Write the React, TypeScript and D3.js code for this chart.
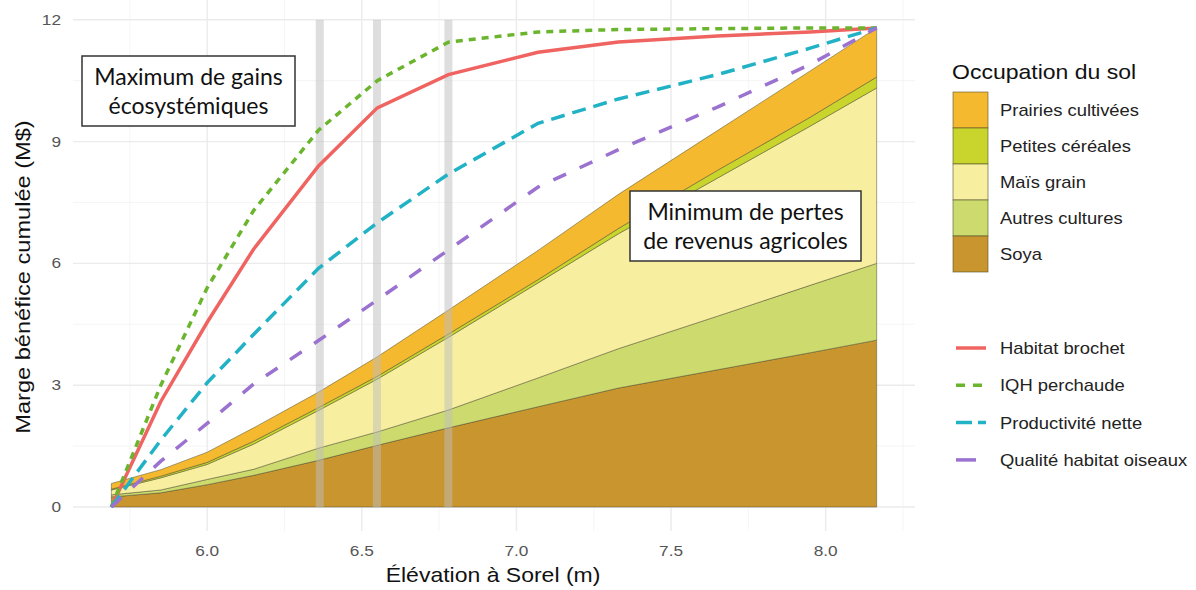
import React from "react";
import * as d3 from "d3";

const elevations = [5.69, 5.85, 6.0, 6.15, 6.36, 6.55, 6.78, 7.07, 7.33, 7.65, 7.95, 8.165];

const landCategories = ["Soya", "Autres cultures", "Maïs grain", "Petites céréales", "Prairies cultivées"];
const soya = [0.25, 0.35, 0.55, 0.78, 1.15, 1.52, 1.95, 2.47, 2.93, 3.38, 3.8, 4.11];
const autresCultures = [0.05, 0.07, 0.13, 0.15, 0.3, 0.33, 0.44, 0.71, 0.97, 1.32, 1.66, 1.89];
const maisGrain = [0.12, 0.3, 0.37, 0.62, 0.93, 1.3, 1.79, 2.34, 2.83, 3.4, 3.92, 4.32];
const petitesCereales = [0.02, 0.04, 0.05, 0.07, 0.07, 0.07, 0.08, 0.08, 0.13, 0.19, 0.22, 0.27];
const prairiesCultivees = [0.14, 0.16, 0.25, 0.33, 0.38, 0.48, 0.59, 0.72, 0.84, 0.98, 1.14, 1.21];

const lineNames = ["Habitat brochet", "IQH perchaude", "Productivité nette", "Qualité habitat oiseaux"];
const habitatBrochet = [0, 2.6, 4.55, 6.35, 8.4, 9.83, 10.65, 11.2, 11.45, 11.6, 11.7, 11.8];
const iqhPerchaude = [0, 3.0, 5.4, 7.3, 9.28, 10.5, 11.45, 11.7, 11.76, 11.78, 11.8, 11.8];
const productiviteNette = [0, 1.65, 3.06, 4.25, 5.88, 7.0, 8.2, 9.45, 10.05, 10.65, 11.3, 11.8];
const qualiteOiseaux = [0, 1.13, 2.06, 3.03, 4.1, 5.1, 6.33, 7.88, 8.8, 9.85, 10.9, 11.8];

const scenarioElevations = [6.364, 6.549, 6.78];
const xTicks = [6.0, 6.5, 7.0, 7.5, 8.0];
const xMinor = [5.75, 6.25, 6.75, 7.25, 7.75, 8.25];
const yTicks = [0, 3, 6, 9, 12];
const yMinor = [1.5, 4.5, 7.5, 10.5];

const areaColors: Record<string, string> = {
  "Prairies cultivées": "#F5B930",
  "Petites céréales": "#C9D52C",
  "Maïs grain": "#F7EE9F",
  "Autres cultures": "#CDDB6E",
  Soya: "#C9952F",
};
const lineStyles = [
  { color: "#EF6461", dash: "none" },
  { color: "#6BB52E", dash: "7,6" },
  { color: "#22B2C6", dash: "14,8" },
  { color: "#9B72CF", dash: "14,15" },
];
const legendKeyDash = ["none", "9,8", "16,6", "none"];
const legendKeyLen = [30, 30, 30, 20];

const FONT = "'Liberation Sans', Arial, sans-serif";
const SX = 1.15;

function T(props: {
  x: number;
  y: number;
  size: number;
  anchor?: string;
  fill?: string;
  rotate?: number;
  sx?: number;
  children: React.ReactNode;
}) {
  const { x, y, size, anchor = "start", fill = "#222", rotate = 0, sx = SX } = props;
  return (
    <text
      transform={`translate(${x},${y}) rotate(${rotate}) scale(${sx},1)`}
      fontFamily={FONT}
      fontSize={size}
      textAnchor={anchor}
      fill={fill}
    >
      {props.children}
    </text>
  );
}

export default function App() {
  const W = 1196, H = 590;
  const x = d3.scaleLinear().domain([5.566, 8.289]).range([73, 915]);
  const y = d3.scaleLinear().domain([-0.6, 12.6]).range([531.4, -4.6]);

  const areaSeries = [soya, autresCultures, maisGrain, petitesCereales, prairiesCultivees];
  const rows = elevations.map((e, i) => {
    const r: any = { e };
    landCategories.forEach((c, k) => (r[c] = areaSeries[k][i]));
    return r;
  });
  const stacked = d3.stack<any>().keys(landCategories)(rows);
  const area = d3
    .area<any>()
    .x((d) => x(d.data.e))
    .y0((d) => y(d[0]))
    .y1((d) => y(d[1]));

  const lineSeries = [habitatBrochet, iqhPerchaude, productiviteNette, qualiteOiseaux];
  const line = d3
    .line<number>()
    .x((_, i) => x(elevations[i]))
    .y((d) => y(d));

  const legendOrder = [...landCategories].reverse();

  return (
    <svg width={W} height={H} style={{ position: "absolute", left: 0, top: 0, background: "#fff" }}>
      <g>
        {yMinor.map((v) => (
          <line key={"ym" + v} x1={73} x2={915} y1={y(v)} y2={y(v)} stroke="#f3f3f3" strokeWidth={0.8} />
        ))}
        {xMinor.map((v) => (
          <line key={"xm" + v} x1={x(v)} x2={x(v)} y1={-5} y2={531} stroke="#f3f3f3" strokeWidth={0.8} />
        ))}
        {yTicks.map((v) => (
          <line key={"y" + v} x1={73} x2={915} y1={y(v)} y2={y(v)} stroke="#ebebeb" strokeWidth={1.4} />
        ))}
        {xTicks.map((v) => (
          <line key={"x" + v} x1={x(v)} x2={x(v)} y1={-5} y2={531} stroke="#ebebeb" strokeWidth={1.4} />
        ))}
      </g>
      <g>
        {stacked.map((s) => (
          <path
            key={s.key}
            d={area(s) || ""}
            fill={areaColors[s.key]}
            stroke="#4a4a2a"
            strokeOpacity={0.7}
            strokeWidth={0.7}
          />
        ))}
      </g>
      <g>
        {scenarioElevations.map((v) => (
          <line
            key={"s" + v}
            x1={x(v)}
            x2={x(v)}
            y1={y(0)}
            y2={y(12)}
            stroke="#bdbdbd"
            strokeOpacity={0.5}
            strokeWidth={8}
          />
        ))}
      </g>
      <g fill="none">
        {lineSeries.map((s, i) => (
          <path
            key={lineNames[i]}
            d={line(s) || ""}
            stroke={lineStyles[i].color}
            strokeWidth={3.5}
            strokeDasharray={lineStyles[i].dash}
          />
        ))}
      </g>
      <g fontFamily="Lato, 'Open Sans', sans-serif" fontSize={23} fill="#111" textAnchor="middle">
        <rect x={82} y={56} width={213} height={70} fill="#fff" stroke="#333" strokeWidth={1.5} />
        <text x={188.5} y={85}>Maximum de gains</text>
        <text x={188.5} y={114}>écosystémiques</text>
        <rect x={630} y={191} width={231} height={70} fill="#fff" stroke="#333" strokeWidth={1.5} />
        <text x={745.5} y={220}>Minimum de pertes</text>
        <text x={745.5} y={249}>de revenus agricoles</text>
      </g>
      <g>
        {yTicks.map((v) => (
          <T key={"yt" + v} x={61} y={y(v) + 5} size={15} anchor="end" fill="#555">
            {v}
          </T>
        ))}
        {xTicks.map((v) => (
          <T key={"xt" + v} x={x(v)} y={556} size={15} anchor="middle" fill="#555">
            {v.toFixed(1)}
          </T>
        ))}
      </g>
      <T x={493} y={582} size={20} anchor="middle" fill="#111">
        Élévation à Sorel (m)
      </T>
      <T x={30} y={277} size={20} anchor="middle" fill="#111" rotate={-90} sx={1.18}>
        Marge bénéfice cumulée (M$)
      </T>
      <g>
        <T x={952} y={79} size={20} fill="#111">
          Occupation du sol
        </T>
        {legendOrder.map((c, i) => (
          <g key={c}>
            <rect
              x={953}
              y={92 + i * 36}
              width={35}
              height={36}
              fill={areaColors[c]}
              stroke="#4a4a2a"
              strokeOpacity={0.7}
              strokeWidth={0.8}
            />
            <T x={1000} y={116 + i * 36} size={16}>
              {c}
            </T>
          </g>
        ))}
        {lineNames.map((n, i) => (
          <g key={n}>
            <line
              x1={956}
              x2={956 + legendKeyLen[i]}
              y1={348 + i * 37.3}
              y2={348 + i * 37.3}
              stroke={lineStyles[i].color}
              strokeWidth={3.5}
              strokeDasharray={legendKeyDash[i]}
            />
            <T x={1000} y={354 + i * 37.3} size={16}>
              {n}
            </T>
          </g>
        ))}
      </g>
    </svg>
  );
}
